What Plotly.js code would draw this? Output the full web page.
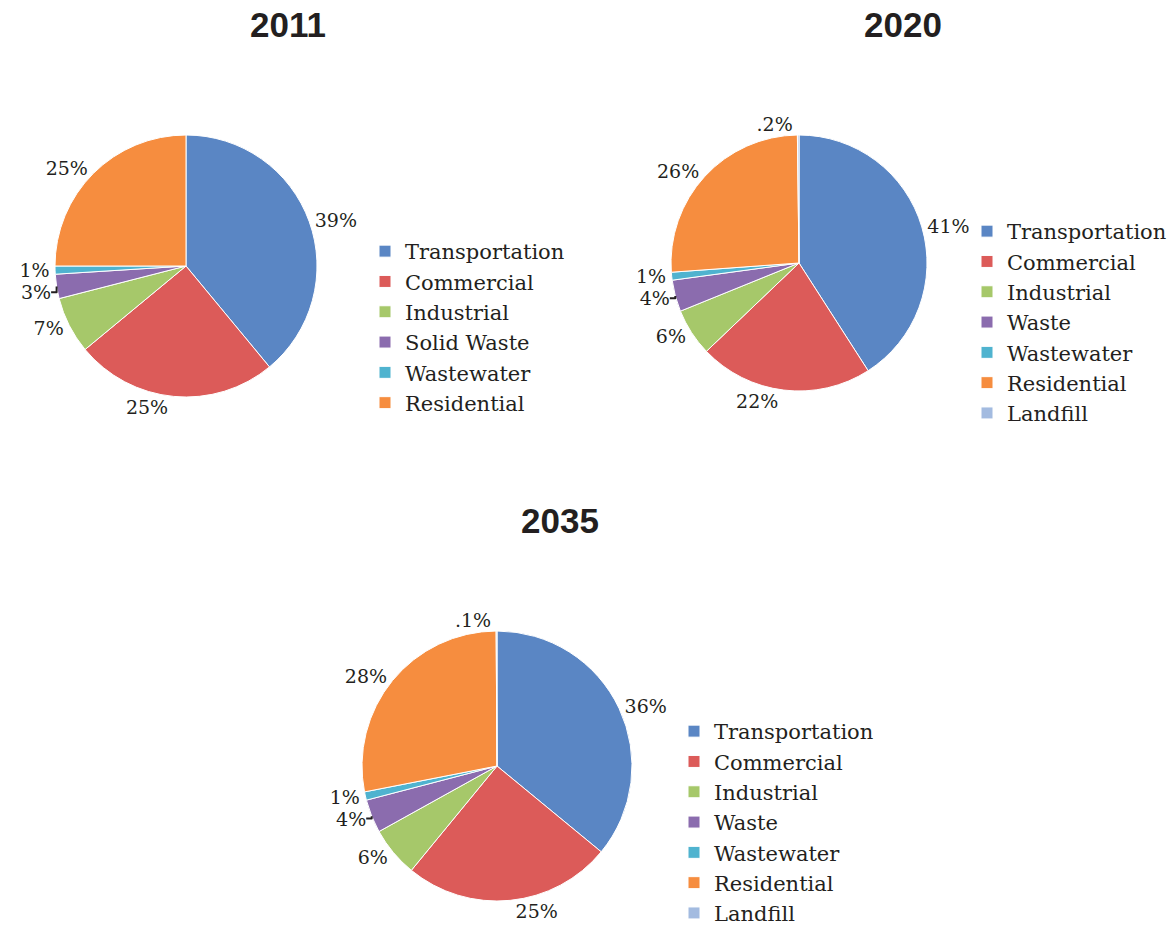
<!DOCTYPE html>
<html>
<head>
<meta charset="utf-8">
<script src="https://cdn.plot.ly/plotly-3.0.1.min.js"></script>
<style>html,body{margin:0;padding:0;background:#fff;overflow:hidden;}#chart{width:1167px;height:937px;}</style>
</head>
<body>
<div id="chart"></div>
<script>
// ---- data ----
const labels2011 = ["Transportation", "Commercial", "Industrial", "Solid Waste", "Wastewater", "Residential"];
const values2011 = [39, 25, 7, 3, 1, 25];
const text2011 = ["39%", "25%", "7%", "3%", "1%", "25%"];

const labels2020 = ["Transportation", "Commercial", "Industrial", "Waste", "Wastewater", "Residential", "Landfill"];
const values2020 = [41, 22, 6, 4, 1, 26, 0.2];
const text2020 = ["41%", "22%", "6%", "4%", "1%", "26%", ".2%"];

const labels2035 = ["Transportation", "Commercial", "Industrial", "Waste", "Wastewater", "Residential", "Landfill"];
const values2035 = [36, 25, 6, 4, 1, 28, 0.1];
const text2035 = ["36%", "25%", "6%", "4%", "1%", "28%", ".1%"];

const years = ["2011", "2020", "2035"];

// ---- styles ----
const colors = ["#5a86c4", "#dc5b59", "#a6c86a", "#8b6cae", "#4fb3cf", "#f68d3f", "#a3bbe0"];
const W = 1167, H = 937;
const serif = "DejaVu Serif, serif";

function pie(labels, values, text, cx, cy, r, legendId) {
  return {
    type: "pie",
    labels: labels,
    values: values,
    text: text,
    textinfo: "text",
    textposition: "outside",
    outsidetextfont: {family: serif, size: 19, color: "#231f20"},
    sort: false,
    direction: "clockwise",
    rotation: 0,
    marker: {colors: colors.slice(0, labels.length), line: {color: "#ffffff", width: 1}},
    domain: {x: [(cx - r) / W, (cx + r) / W], y: [1 - (cy + r) / H, 1 - (cy - r) / H]},
    legend: legendId,
    legendgroup: legendId,
    automargin: false,
    hoverinfo: "label+text"
  };
}

const data = [
  pie(labels2011, values2011, text2011, 186, 266, 131, "legend"),
  pie(labels2020, values2020, text2020, 799, 263, 128, "legend2"),
  pie(labels2035, values2035, text2035, 497, 766, 135, "legend3")
];

function legendAt(x, y, size) {
  return {
    x: x / W, y: 1 - y / H, xanchor: "left", yanchor: "top",
    font: {family: serif, size: size, color: "#231f20"},
    bgcolor: "rgba(0,0,0,0)", borderwidth: 0, itemclick: false
  };
}

const titleFont = {family: "Liberation Sans, Arial, sans-serif", size: 35, color: "#231f20", weight: "bold"};

const layout = {
  width: W, height: H,
  autosize: false,
  margin: {l: 0, r: 0, t: 0, b: 0, autoexpand: false},
  paper_bgcolor: "#ffffff",
  plot_bgcolor: "#ffffff",
  showlegend: true,
  legend: legendAt(365, 231, 21),
  legend2: legendAt(967, 211, 21),
  legend3: legendAt(674, 711, 21),
  annotations: [
    {text: "<b>" + years[0] + "</b>", x: 288 / W, y: 1 - 24 / H, xref: "paper", yref: "paper", showarrow: false, font: titleFont, xanchor: "center", yanchor: "middle"},
    {text: "<b>" + years[1] + "</b>", x: 903 / W, y: 1 - 24 / H, xref: "paper", yref: "paper", showarrow: false, font: titleFont, xanchor: "center", yanchor: "middle"},
    {text: "<b>" + years[2] + "</b>", x: 560 / W, y: 1 - 520 / H, xref: "paper", yref: "paper", showarrow: false, font: titleFont, xanchor: "center", yanchor: "middle"}
  ]
};

Plotly.newPlot("chart", data, layout, {displayModeBar: false, staticPlot: true});
</script>
</body>
</html>
